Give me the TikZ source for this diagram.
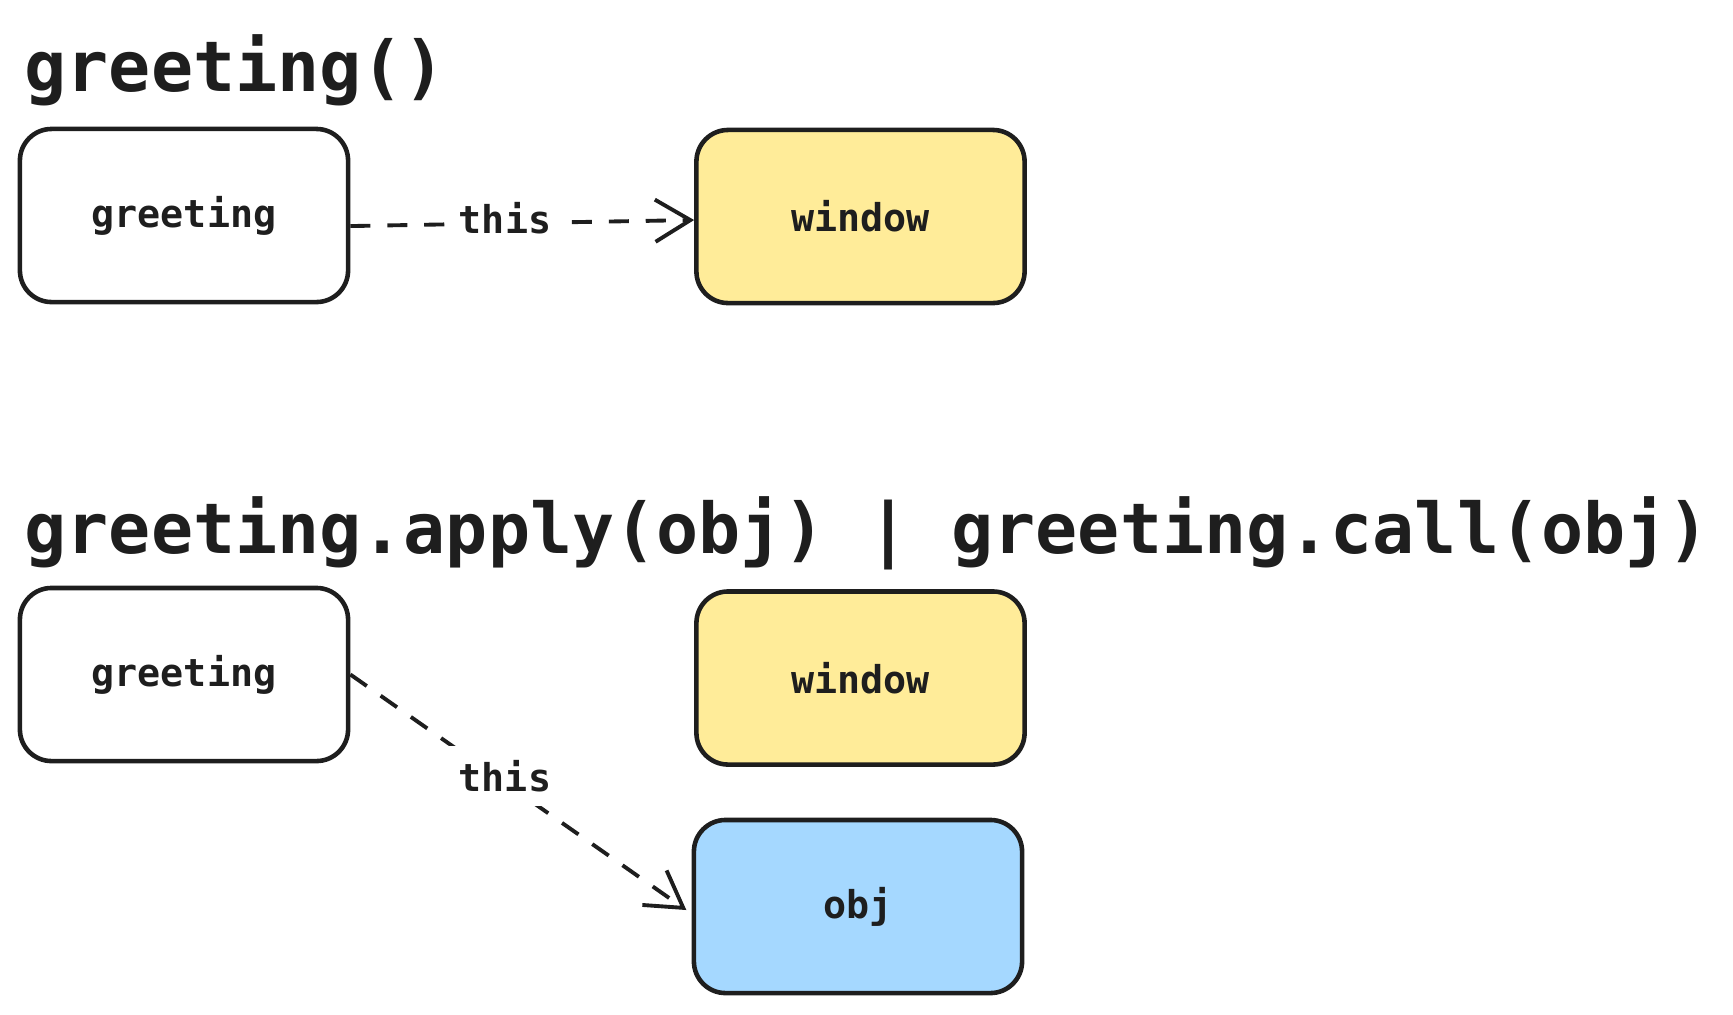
\documentclass[tikz,border=0pt]{standalone}
\usepackage{fontspec}
\setmonofont{DejaVu Sans Mono}
\usetikzlibrary{arrows.meta}
\definecolor{ink}{HTML}{1E1E1E}
\definecolor{winfill}{HTML}{FFEC99}
\definecolor{objfill}{HTML}{A5D8FF}
\begin{document}
\begin{tikzpicture}[x=0.01cm,y=-0.01cm] % 1 unit = 1 px of the sketch
\tikzstyle{heading} = [anchor=base west, inner sep=0pt, text=ink, font=\ttfamily\bfseries\fontsize{19.9}{24}\selectfont] % section title
\tikzstyle{obox} = [draw=ink, line width=1.3pt, rounded corners=9pt, minimum width=3.28cm, minimum height=1.73cm, text=ink, font=\ttfamily\bfseries\fontsize{10.9}{13}\selectfont] % object box
\tikzstyle{bindarrow} = [draw=ink, line width=1.1pt, dash pattern=on 5.7pt off 4.8pt, -{Straight Barb[length=10pt,width=12pt]}] % this-binding
\tikzstyle{bindlabel} = [fill=white, inner sep=4pt, text=ink, font=\ttfamily\bfseries\fontsize{10.9}{13}\selectfont]

\useasboundingbox (0,0) rectangle (1733,1014);

% plain call
\node[heading] (callA) at (24,91) {greeting()};
\node[obox] (greetA) at (184,215.5) {greeting};
\node[obox, fill=winfill] (windowA) at (860.5,216.5) {window};
\draw[bindarrow] ([yshift=-3pt]greetA.east) -- node[bindlabel, pos=0.45, yshift=1.5pt] (thisA) {this} ([yshift=-1pt]windowA.west);

% explicit binding
\node[heading] (callB) at (24,553) {greeting.apply(obj) | greeting.call(obj)};
\node[obox] (greetB) at (184,674.5) {greeting};
\node[obox, fill=winfill] (windowB) at (860.5,678) {window};
\node[obox, fill=objfill] (objB) at (858,906.5) {obj};
\draw[bindarrow] (greetB.east) -- node[bindlabel, pos=0.46, yshift=2pt] (thisB) {this} ([xshift=-1.5pt,yshift=-1pt]objB.west);
\end{tikzpicture}
\end{document}
